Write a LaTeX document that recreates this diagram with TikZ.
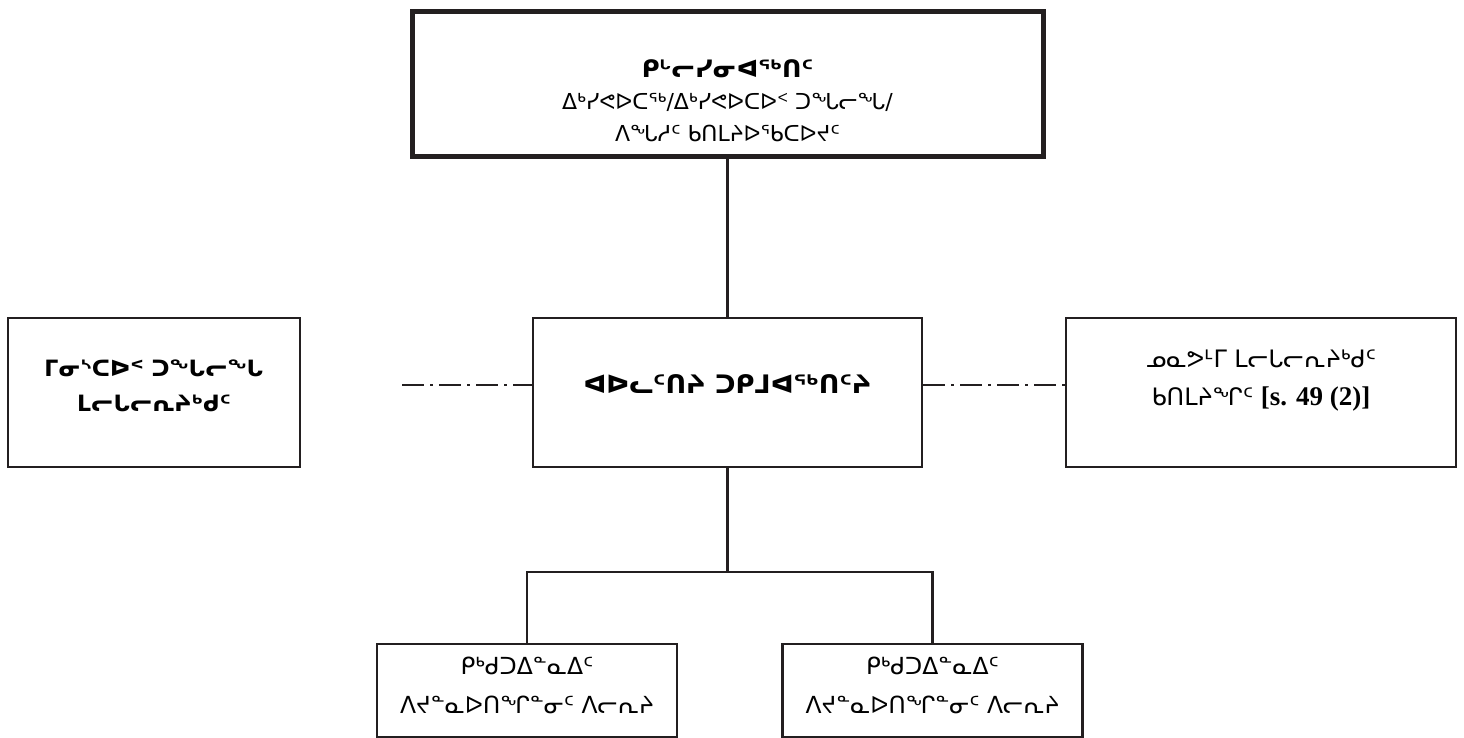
\documentclass[tikz,border=0pt]{standalone}
\usepackage{fontspec}
\setmainfont{DejaVu Sans}
\newfontfamily\latinserif{Liberation Serif}
\usetikzlibrary{positioning}
\definecolor{ink}{RGB}{35,31,32}
% invisible struts that push a text block up or down in its box
\newcommand{\pushdown}[1]{\rule{0pt}{#1}}
\newcommand{\pushup}[1]{\rule[-#1]{0pt}{#1}}

\begin{document}
\begin{tikzpicture}[x=1pt,y=-1pt,
    box/.style={draw=ink, line width=2.4pt, align=center, inner sep=0pt,
      font=\fontsize{22}{32}\selectfont},
    chief/.style={box, line width=5pt},
    link/.style={draw=ink, line width=2.4pt},
    sidelink/.style={link, dash pattern=on 22pt off 6pt on 3pt off 6pt}]
  \useasboundingbox (0,0) rectangle (1464,738);
  % top of the chart
  \node[chief, minimum width=631pt, minimum height=145pt] (rofficer) at (727.5,84.5)
    {\pushdown{50pt}{\bfseries\fontsize{24}{36}\selectfont ᑭᒡᓕᓯᓂᐊᖅᑎᑦ}\\
     ᐃᒃᓯᕙᐅᑕᖅ/ᐃᒃᓯᕙᐅᑕᐅᑉ ᑐᖓᓕᖓ/\\
     ᐱᖓᓱᑦ ᑲᑎᒪᔨᐅᖃᑕᐅᔪᑦ};
  % middle row
  \node[box, minimum width=389pt, minimum height=149pt, font=\bfseries\fontsize{25.5}{32}\selectfont]
    (ceo) at (727.5,392.5) {ᐊᐅᓚᑦᑎᔨ ᑐᑭᒧᐊᖅᑎᑦᔨ\pushup{16pt}};
  \node[box, minimum width=292pt, minimum height=149pt, font=\bfseries\fontsize{22.5}{35}\selectfont]
    (minister) at (154,392.5) {ᒥᓂᔅᑕᐅᑉ ᑐᖓᓕᖓ\\ᒪᓕᒐᓕᕆᔨᒃᑯᑦ\pushup{14pt}};
  \node[box, minimum width=390pt, minimum height=149pt, font=\fontsize{24}{38}\selectfont] (nlac) at (1261,392.5)
    {ᓄᓇᕗᒻᒥ ᒪᓕᒐᓕᕆᔨᒃᑯᑦ\\ᑲᑎᒪᔨᖏᑦ {\latinserif\bfseries\fontsize{27}{32}\selectfont [s. 49 (2)]}\pushup{30pt}};
  % bottom row
  \node[box, minimum width=300pt, minimum height=93pt, font=\fontsize{23.5}{39}\selectfont]
    (deputyA) at (527,690.5) {ᑭᒃᑯᑐᐃᓐᓇᐃᑦ\\ᐱᔪᓐᓇᐅᑎᖏᓐᓂᑦ ᐱᓕᕆᔨ\pushup{10pt}};
  \node[box, minimum width=300pt, minimum height=93pt, font=\fontsize{23.5}{39}\selectfont]
    (deputyB) at (932.5,690.5) {ᑭᒃᑯᑐᐃᓐᓇᐃᑦ\\ᐱᔪᓐᓇᐅᑎᖏᓐᓂᑦ ᐱᓕᕆᔨ\pushup{10pt}};
  % connectors
  \coordinate (split) at (727.5,572);
  \coordinate (dashL) at (402,385);
  \draw[link] (rofficer.south) -- (ceo.north);
  \draw[link] (ceo.south) -- (split);
  \draw[link] (deputyA.north) |- (split) -| (deputyB.north);
  \draw[sidelink] (dashL) -- (dashL -| ceo.west);
  \draw[sidelink] (dashL -| ceo.east) -- (dashL -| nlac.west);
\end{tikzpicture}
\end{document}
